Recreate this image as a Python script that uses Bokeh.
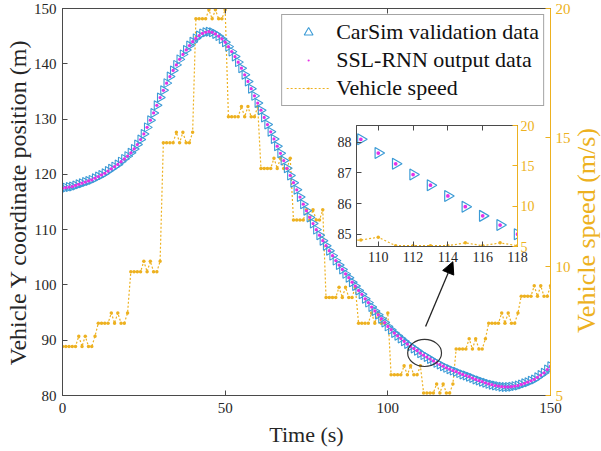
import math
from bokeh.plotting import figure
from bokeh.models import (Range1d, LinearAxis, Legend, LegendItem, FixedTicker,
                          Arrow, NormalHead, Label)
from bokeh.embed import file_html
from bokeh.resources import INLINE

# ---------------- data ----------------
time_s = list(range(0, 151))

carsim_y = [
    117.5, 117.6, 117.7, 117.8, 118.0, 118.2, 118.4, 118.6, 118.8, 119.0, 119.3,
    119.6, 119.9, 120.2, 120.6, 121.0, 121.4, 121.8, 122.3, 122.8, 123.3,
    123.9, 124.6, 125.4, 126.3, 127.3, 128.5, 129.8, 131.1, 132.5, 133.9,
    135.2, 136.5, 137.7, 138.8, 139.8, 140.8, 141.7, 142.5, 143.3, 144.0,
    144.6, 145.1, 145.5, 145.7, 145.8, 145.7, 145.4, 145.0, 144.5, 143.9,
    143.1, 142.2, 141.3, 140.3, 139.2, 138.0, 136.8, 135.5, 134.2, 132.9,
    131.6, 130.3, 129.0, 127.7, 126.4, 125.1, 123.8, 122.5, 121.1, 119.8,
    118.5, 117.2, 115.9, 114.6, 113.4, 112.2, 111.1, 110.0, 109.0, 108.0,
    107.1, 106.2, 105.3, 104.4, 103.6, 102.8, 102.0, 101.3, 100.5, 99.8,
    99.0, 98.3, 97.5, 96.8, 96.0, 95.3, 94.6, 93.9, 93.2, 92.5,
    91.9, 91.3, 90.8, 90.3, 89.8, 89.3, 88.9, 88.5, 88.1, 87.65,
    87.3, 86.95, 86.6, 86.25, 85.9, 85.6, 85.3, 85.0, 84.75, 84.5,
    84.3, 84.05, 83.8, 83.6, 83.4, 83.15, 82.9, 82.7, 82.5, 82.3,
    82.1, 81.95, 81.8, 81.7, 81.6, 81.55, 81.55, 81.6, 81.7, 81.8,
    82.0, 82.2, 82.4, 82.65, 82.9, 83.3, 83.7, 84.1, 84.7, 85.3,
]

ssl_rnn_y = list(carsim_y)

vehicle_speed = [
    6.9, 6.9, 6.9, 6.9, 6.9, 7.3, 6.9, 7.3, 6.9, 6.9, 7.3,
    7.8, 7.8, 7.8, 7.8, 8.2, 7.8, 8.2, 7.8, 7.8, 8.2,
    9.8, 9.8, 9.8, 9.8, 10.2, 9.8, 10.2, 9.8, 9.8, 10.2,
    14.8, 14.8, 14.8, 14.8, 15.2, 14.8, 15.2, 14.8, 14.8, 15.2,
    19.6, 19.6, 19.6, 19.6, 19.95, 19.6, 19.95, 19.6, 19.6, 19.95,
    15.8, 15.8, 15.8, 15.8, 16.2, 15.8, 16.2, 15.8, 15.8, 16.2,
    13.8, 13.8, 13.8, 13.8, 14.2, 13.8, 14.2, 13.8, 13.8, 14.2,
    11.8, 11.8, 11.8, 11.8, 12.2, 11.8, 12.2, 11.8, 11.8, 12.2,
    8.8, 8.8, 8.8, 8.8, 9.2, 8.8, 9.2, 8.8, 8.8, 9.2,
    7.8, 7.8, 7.8, 7.8, 8.2, 7.8, 8.2, 7.8, 7.8, 8.2,
    5.8, 5.8, 5.8, 5.8, 6.15, 5.8, 6.15, 5.8, 5.8, 6.15,
    5.1, 5.1, 5.1, 5.1, 5.45, 5.1, 5.45, 5.1, 5.1, 5.45,
    6.8, 6.8, 6.8, 6.8, 7.2, 6.8, 7.2, 6.8, 6.8, 7.2,
    7.8, 7.8, 7.8, 7.8, 8.2, 7.8, 8.2, 7.8, 7.8, 8.2,
    8.85, 8.85, 8.85, 8.85, 9.25, 8.85, 9.25, 8.85, 8.85, 9.25,
]

main_x_ticks = [0, 50, 100, 150]
main_y_ticks = [80, 90, 100, 110, 120, 130, 140, 150]
speed_ticks = [5, 10, 15, 20]
inset_x_ticks = [110, 112, 114, 116, 118]
inset_y_ticks = [85, 86, 87, 88]
speed_axis_title = "Vehicle speed (m/s)"

# annotation: zoom circle and arrow (data coordinates)
zoom_circle_x = [111.3]
zoom_circle_y = [87.7]
zoom_circle_w = 10.4
zoom_circle_h = 4.9
arrow_start = (111.6, 92.5)
arrow_end = (120.0, 104.2)

# ---------------- styles ----------------
FONT = "Liberation Serif"
AX = "#4a4a4a"
TXT = "#262626"
GOLD = "#EDB120"
BLUE = "#3C9BD6"
MAG = "#E632E6"

MAIN_W, MAIN_H = 601, 451
M_LEFT, M_RIGHT, M_TOP, M_BOTTOM = 62, 51, 8, 56
INSET_FW, INSET_FH = 161, 121
I_LEFT, I_RIGHT, I_TOP, I_BOTTOM = 40, 35, 12, 30
INSET_FRAME_LEFT, INSET_FRAME_TOP = 356, 125
RLAB_LEFT, RLAB_TOP, RLAB_W, RLAB_H = 571, 80, 30, 300


def style_axis(ax, color_line=AX, color_txt=TXT, size="15px"):
    ax.axis_line_color = color_line
    ax.major_tick_line_color = color_line
    ax.minor_tick_line_color = None
    ax.major_tick_in = 5
    ax.major_tick_out = 0
    ax.major_label_text_font = FONT
    ax.major_label_text_font_size = size
    ax.major_label_text_color = color_txt
    ax.axis_label_text_font = FONT
    ax.axis_label_text_font_style = "normal"
    ax.axis_label_text_color = color_txt


def hide_labels(ax):
    ax.major_label_text_font_size = "0px"
    ax.major_label_text_color = None
    ax.major_label_standoff = 0


# ---------------- main figure ----------------
p = figure(width=MAIN_W, height=MAIN_H, x_range=Range1d(0, 150), y_range=Range1d(80, 150),
           output_backend="svg", toolbar_location=None,
           min_border_left=M_LEFT, min_border_right=M_RIGHT, min_border_top=M_TOP,
           min_border_bottom=M_BOTTOM, x_axis_location=None, y_axis_location=None)
p.extra_y_ranges = {"speed": Range1d(5, 20)}
p.grid.visible = False
p.outline_line_color = AX
p.background_fill_color = "white"
p.border_fill_color = "white"

xax = LinearAxis(ticker=FixedTicker(ticks=main_x_ticks), axis_label="Time (s)")
style_axis(xax)
xax.axis_label_text_font_size = "22px"
xax.major_label_standoff = 7
xax.axis_label_standoff = 6
p.add_layout(xax, "below")

top_ax = LinearAxis(ticker=FixedTicker(ticks=main_x_ticks))
style_axis(top_ax)
hide_labels(top_ax)
p.add_layout(top_ax, "above")

yax = LinearAxis(ticker=FixedTicker(ticks=main_y_ticks),
                 axis_label="Vehicle Y coordinate position (m)")
style_axis(yax)
yax.axis_label_text_font_size = "24px"
yax.major_label_standoff = 6
yax.axis_label_standoff = 0
p.add_layout(yax, "left")

rax = LinearAxis(y_range_name="speed", ticker=FixedTicker(ticks=speed_ticks))
style_axis(rax, color_line=GOLD, color_txt=GOLD)
rax.major_label_standoff = 5
p.add_layout(rax, "right")

sp_line = p.line(time_s, vehicle_speed, y_range_name="speed", line_color=GOLD,
                 line_width=1.2, line_dash="2 2")
sp_pts = p.scatter(time_s, vehicle_speed, y_range_name="speed", marker="dot",
                   size=14, fill_color=GOLD, line_color=GOLD)
tri = p.scatter(time_s, carsim_y, marker="triangle", angle=-math.pi / 2, size=9,
                fill_color=None, line_color=BLUE, line_width=1.1)
dots = p.scatter(time_s, ssl_rnn_y, marker="dot", size=13, fill_color=MAG,
                 line_color=MAG)

p.ellipse(x=zoom_circle_x, y=zoom_circle_y, width=zoom_circle_w, height=zoom_circle_h,
          fill_color=None, line_color="#333333", line_width=1.2)
p.add_layout(Arrow(end=NormalHead(size=12, fill_color="black", line_color="black"),
                   x_start=arrow_start[0], y_start=arrow_start[1],
                   x_end=arrow_end[0], y_end=arrow_end[1],
                   line_color="#222222", line_width=1.3))

legend = Legend(items=[
    LegendItem(label="CarSim validation data", renderers=[tri]),
    LegendItem(label="SSL-RNN output data", renderers=[dots]),
    LegendItem(label="Vehicle speed", renderers=[sp_line, sp_pts]),
], location="top_right")
legend.margin = 6
legend.padding = 4
legend.spacing = 2
legend.glyph_width = 44
legend.glyph_height = 22
legend.label_height = 24
legend.label_standoff = 6
legend.label_text_font = FONT
legend.label_text_font_size = "22px"
legend.label_text_color = "#111111"
legend.border_line_color = AX
legend.border_line_width = 1
legend.background_fill_alpha = 1
p.add_layout(legend, "center")

# ---------------- inset ----------------
inset = figure(frame_width=INSET_FW, frame_height=INSET_FH,
               x_range=Range1d(108.75, 118.0), y_range=Range1d(84.6, 88.55),
               output_backend="svg", toolbar_location=None,
               min_border_left=I_LEFT, min_border_right=I_RIGHT, min_border_top=I_TOP,
               min_border_bottom=I_BOTTOM, x_axis_location=None, y_axis_location=None)
inset.extra_y_ranges = {"speed": Range1d(5, 20)}
inset.grid.visible = False
inset.outline_line_color = AX
inset.background_fill_color = "white"
inset.border_fill_alpha = 0

ix = LinearAxis(ticker=FixedTicker(ticks=inset_x_ticks))
style_axis(ix, size="14px")
ix.major_label_standoff = 5
inset.add_layout(ix, "below")
itop = LinearAxis(ticker=FixedTicker(ticks=inset_x_ticks))
style_axis(itop)
hide_labels(itop)
inset.add_layout(itop, "above")
iy = LinearAxis(ticker=FixedTicker(ticks=inset_y_ticks))
style_axis(iy, size="14px")
iy.major_label_standoff = 5
inset.add_layout(iy, "left")
ir = LinearAxis(y_range_name="speed", ticker=FixedTicker(ticks=speed_ticks))
style_axis(ir, color_line=GOLD, color_txt=GOLD, size="14px")
ir.major_label_standoff = 3
inset.add_layout(ir, "right")

inset.line(time_s, vehicle_speed, y_range_name="speed", line_color=GOLD,
           line_width=1.2, line_dash="2 2")
inset.scatter(time_s, vehicle_speed, y_range_name="speed", marker="dot", size=14,
              fill_color=GOLD, line_color=GOLD)
inset.scatter(time_s, carsim_y, marker="triangle", angle=-math.pi / 2, size=11,
              fill_color=None, line_color=BLUE, line_width=1.2)
inset.scatter(time_s, ssl_rnn_y, marker="dot", size=15, fill_color=MAG,
              line_color=MAG)

inset.styles = {"position": "absolute",
                "left": f"{INSET_FRAME_LEFT - I_LEFT}px",
                "top": f"{INSET_FRAME_TOP - I_TOP}px",
                "z-index": "10"}

# ---------------- right axis title (reads bottom-to-top) ----------------
rlab = figure(width=RLAB_W, height=RLAB_H, x_range=Range1d(0, 1), y_range=Range1d(0, 1),
              output_backend="svg", toolbar_location=None, min_border=0,
              x_axis_location=None, y_axis_location=None)
rlab.grid.visible = False
rlab.outline_line_color = None
rlab.background_fill_alpha = 0
rlab.border_fill_alpha = 0
rlab.add_layout(Label(x=0.5, y=0.5, text=speed_axis_title, angle=math.pi / 2,
                      text_align="center", text_baseline="middle", text_font=FONT,
                      text_font_size="26px", text_color=GOLD))
rlab.styles = {"position": "absolute", "left": f"{RLAB_LEFT}px",
               "top": f"{RLAB_TOP}px", "z-index": "11"}

open("out.html", "w").write(file_html([p, inset, rlab], INLINE))
